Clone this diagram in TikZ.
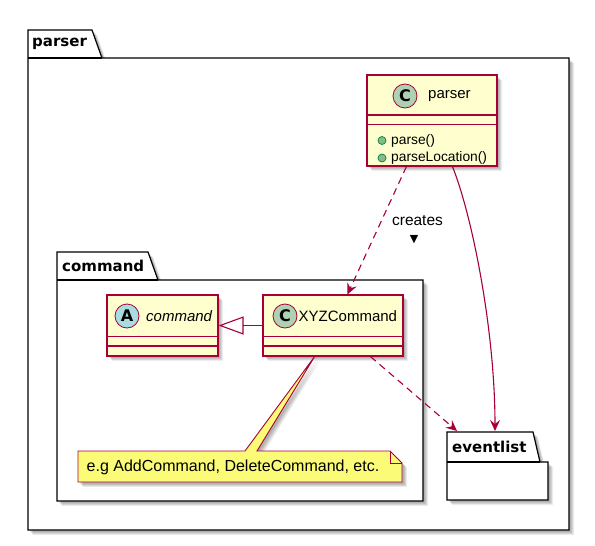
\documentclass[tikz,border=0pt]{standalone}
\usepackage{fontspec}
\setmainfont{Liberation Sans}
\newfontfamily\dvs{DejaVu Sans}
\usetikzlibrary{arrows.meta,shadows,calc}
\definecolor{umlred}{HTML}{A80036}
\definecolor{classfill}{HTML}{FEFECE}
\definecolor{notefill}{HTML}{FBFB77}
\definecolor{cfill}{HTML}{ADD1B2}
\definecolor{afill}{HTML}{A9DCDF}
\definecolor{mfill}{HTML}{84BE84}
\definecolor{mline}{HTML}{038048}
\tikzset{
  shad/.style={
    drop shadow={shadow xshift=2pt,shadow yshift=-2pt,fill=black,opacity=.09},
    drop shadow={shadow xshift=3pt,shadow yshift=-3pt,fill=black,opacity=.09},
    drop shadow={shadow xshift=4pt,shadow yshift=-4pt,fill=black,opacity=.09},
    drop shadow={shadow xshift=5pt,shadow yshift=-5pt,fill=black,opacity=.07}},
  pkg/.style={draw=black,line width=1.2pt,fill=white,shad},
  pkglabel/.style={font=\dvs\bfseries\fontsize{15}{17}\selectfont,inner sep=0pt,anchor=west},
  cls/.style={draw=umlred,line width=1.1pt,fill=classfill,shad,rectangle,inner sep=0pt},
  divider/.style={draw=umlred,line width=1.1pt},
  icon/.style={circle,draw=umlred,line width=0.8pt,minimum size=24pt,inner sep=0pt,font=\dvs\bfseries\fontsize{16}{18}\selectfont},
  clsname/.style={font=\fontsize{15}{17}\selectfont,inner sep=0pt,anchor=west},
  meth/.style={font=\fontsize{13.8}{16}\selectfont,inner sep=0pt,anchor=west},
  mdot/.style={circle,draw=mline,fill=mfill,line width=0.7pt,minimum size=8pt,inner sep=0pt},
  rel/.style={draw=umlred,line width=1.1pt,-{Stealth[length=11pt,width=10pt,inset=4pt]}},
  dsh/.style={dash pattern=on 7pt off 5pt},
}
\begin{document}
\begin{tikzpicture}[x=1pt,y=-1pt]
\useasboundingbox (0,0) rectangle (595,546);
% parser package
\path[pkg] (28,30) -- (92,30) -- (102,58) -- (569,58) -- (569,530) -- (28,530) -- cycle;
\draw[line width=1.2pt] (28,58) -- (102,58);
\node[pkglabel] (parserlbl) at (32,44) {parser};
% command package
\path[pkg] (57,252) -- (148,252) -- (158,280) -- (423,280) -- (423,501) -- (57,501) -- cycle;
\draw[line width=1.2pt] (57,280) -- (158,280);
\node[pkglabel] (commandlbl) at (62,266) {command};
% eventlist package
\path[pkg] (447,432) -- (533,432) -- (540,462) -- (548,462) -- (548,500) -- (447,500) -- cycle;
\draw[line width=1.2pt] (447,462) -- (540,462);
\node[pkglabel] (eventlist) at (452,447) {eventlist};
\coordinate (evtop1) at (457,431);
\coordinate (evtop2) at (495,431);
% parser class
\node[cls,minimum width=130pt,minimum height=91pt] (parsercls) at (432,120.5) {};
\draw[divider] (367,115) -- (497,115);
\draw[divider] (367,124.5) -- (497,124.5);
\node[icon,fill=cfill] (pc) at (405,96) {C};
\node[clsname] (pn) at (428,96) {parser};
\node[mdot] (m1) at (382,140.5) {};
\node[meth] (m1t) at (391,140.5) {parse()};
\node[mdot] (m2) at (382,158) {};
\node[meth] (m2t) at (391,158) {parseLocation()};
% command class
\node[cls,minimum width=111pt,minimum height=61pt] (cmdcls) at (162.5,325.5) {};
\draw[divider] (107,336.5) -- (218,336.5);
\draw[divider] (107,346) -- (218,346);
\node[icon,fill=afill] (ac) at (127,316) {A};
\node[clsname,font=\itshape\fontsize{15}{17}\selectfont] (an) at (146,316) {command};
% XYZCommand class
\node[cls,minimum width=140pt,minimum height=61pt] (xyzcls) at (333,325.5) {};
\draw[divider] (263,336.5) -- (403,336.5);
\draw[divider] (263,346) -- (403,346);
\node[icon,fill=cfill] (xc) at (285,316) {C};
\node[clsname] (xn) at (298.5,316) {XYZCommand};
% note
\path[draw=umlred,line width=0.9pt,fill=notefill,shad]
  (78,451) -- (245,451) -- (315,356) -- (257,451) -- (390,451) -- (402,463) -- (402,482) -- (78,482) -- cycle;
\draw[umlred,line width=0.9pt] (390,451) -- (390,463) -- (402,463);
\node[font=\fontsize{16}{18}\selectfont,inner sep=0pt] (note) at (233,467) {e.g AddCommand, DeleteCommand, etc.};
% connectors
\draw[draw=umlred,line width=1.1pt,-{Triangle[open,length=25pt,width=18pt]}] (xyzcls.west) -- (cmdcls.east);
\draw[rel,dsh] ($(parsercls.south west)+(40,0)$) -- ($(xyzcls.north west)+(85,0)$);
\node[font=\fontsize{15.5}{18}\selectfont,inner sep=0pt] (creates) at (417.5,221) {creates};
\node[font=\dvs\fontsize{11}{12}\selectfont,inner sep=0pt] (tri) at (414,240) {▼};
\draw[rel] ($(parsercls.south west)+(86,0)$) .. controls (472,215) and (495,330) .. (evtop2);
\draw[rel,dsh] ($(xyzcls.south west)+(108,0)$) -- (evtop1);
\end{tikzpicture}
\end{document}
